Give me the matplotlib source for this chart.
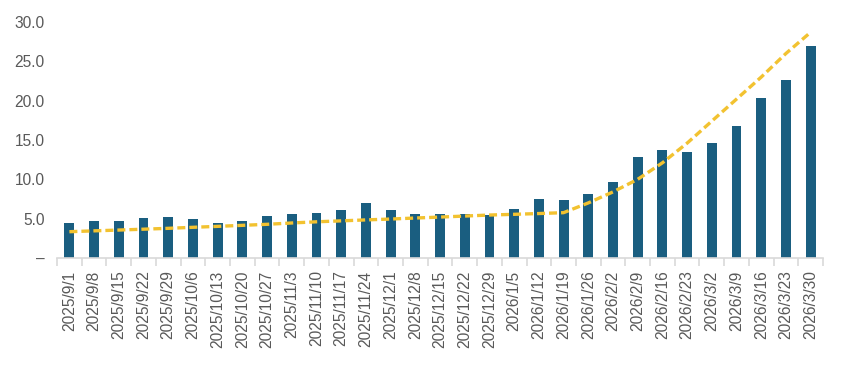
import matplotlib
matplotlib.use("Agg")
import matplotlib.pyplot as plt
import numpy as np

plt.rcParams["font.family"] = ["Liberation Sans", "DejaVu Sans"]

dates = [
    "2025/9/1", "2025/9/8", "2025/9/15", "2025/9/22", "2025/9/29",
    "2025/10/6", "2025/10/13", "2025/10/20", "2025/10/27", "2025/11/3",
    "2025/11/10", "2025/11/17", "2025/11/24", "2025/12/1", "2025/12/8",
    "2025/12/15", "2025/12/22", "2025/12/29", "2026/1/5", "2026/1/12",
    "2026/1/19", "2026/1/26", "2026/2/2", "2026/2/9", "2026/2/16",
    "2026/2/23", "2026/3/2", "2026/3/9", "2026/3/16", "2026/3/23",
    "2026/3/30",
]
bar_vals = [
    4.5, 4.75, 4.75, 5.1, 5.25, 4.9, 4.5, 4.75, 5.4, 5.6,
    5.75, 6.1, 7.0, 6.1, 5.6, 5.6, 5.6, 5.45, 6.2, 7.5,
    7.4, 8.1, 9.7, 12.8, 13.7, 13.45, 14.6, 16.8, 20.3, 22.6,
    26.9,
]
line_vals = [
    3.34, 3.45, 3.55, 3.66, 3.77, 3.9, 4.02, 4.15, 4.28, 4.45,
    4.6, 4.72, 4.84, 4.95, 5.08, 5.2, 5.33, 5.46, 5.55, 5.65,
    5.76, 7.0, 8.4, 10.0, 12.1, 14.6, 17.4, 20.2, 23.0, 26.0,
    28.7,
]
y_ticks = [0, 5, 10, 15, 20, 25, 30]
y_labels = ["–", "5.0", "10.0", "15.0", "20.0", "25.0", "30.0"]

bar_color = "#1a5e80"
line_color = "#f2c230"
text_color = "#595959"
axis_color = "#d9d9d9"

fig = plt.figure(figsize=(8.45, 3.72), dpi=100)
ax = fig.add_axes([0.0675, 0.3065, 0.9065, 0.6344])

x = np.arange(len(dates))
ax.bar(x, bar_vals, width=0.4, color=bar_color, zorder=2)
ax.plot(x, line_vals, color=line_color, linewidth=2.4,
        linestyle=(0, (2.4, 1.2)), zorder=3)

ax.set_xlim(-0.5, len(dates) - 0.5)
ax.set_ylim(0, 30)

ax.set_yticks(y_ticks)
ax.set_yticklabels(y_labels)
ax.set_xticks(x)
ax.set_xticklabels(dates, rotation=90)
ax.tick_params(axis="y", length=0, pad=9, labelsize=11.2, labelcolor=text_color)
ax.tick_params(axis="x", which="major", length=0, pad=9, labelsize=11.2,
               labelcolor=text_color)

# boundary ticks between categories
ax.set_xticks(np.arange(-0.5, len(dates), 1.0), minor=True)
ax.tick_params(axis="x", which="minor", length=6, width=1.2, color=axis_color)

for side in ["top", "right", "left"]:
    ax.spines[side].set_visible(False)
ax.spines["bottom"].set_color(axis_color)
ax.spines["bottom"].set_linewidth(1.2)

fig.savefig("out.png", dpi=100)
